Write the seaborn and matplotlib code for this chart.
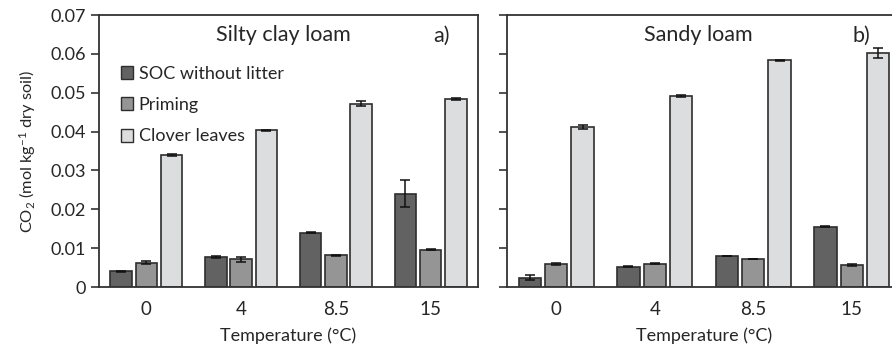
import pandas as pd
import numpy as np
import seaborn as sns
import matplotlib.pyplot as plt
from matplotlib.patches import Patch

# data (mol CO2 per kg dry soil)
temps = ["0", "4", "8.5", "15"]
series = ["SOC without litter", "Priming", "Clover leaves"]

silty_soc = [0.0040, 0.0078, 0.0140, 0.0240]
silty_soc_err = [0.0002, 0.0003, 0.0002, 0.0035]
silty_priming = [0.0063, 0.0071, 0.0082, 0.0096]
silty_priming_err = [0.0004, 0.0007, 0.0001, 0.0002]
silty_clover = [0.0339, 0.0403, 0.0472, 0.0484]
silty_clover_err = [0.0002, 0.0001, 0.0007, 0.0003]

sandy_soc = [0.0024, 0.0052, 0.0080, 0.0155]
sandy_soc_err = [0.0007, 0.0001, 0.0001, 0.0001]
sandy_priming = [0.0059, 0.0060, 0.0072, 0.0057]
sandy_priming_err = [0.0003, 0.0002, 0.0001, 0.0002]
sandy_clover = [0.0412, 0.0492, 0.0583, 0.0602]
sandy_clover_err = [0.0005, 0.0002, 0.0002, 0.0012]

colors = ["#626262", "#959595", "#dcdddf"]
edge = "#2e2e2e"


def make_df(soc, pri, clo, soc_e, pri_e, clo_e):
    rows = []
    for name, vals, errs in zip(series, [soc, pri, clo], [soc_e, pri_e, clo_e]):
        for t, v, e in zip(temps, vals, errs):
            rows.append({"temp": t, "series": name, "co2": v, "err": e})
    return pd.DataFrame(rows)


df_silty = make_df(silty_soc, silty_priming, silty_clover,
                   silty_soc_err, silty_priming_err, silty_clover_err)
df_sandy = make_df(sandy_soc, sandy_priming, sandy_clover,
                   sandy_soc_err, sandy_priming_err, sandy_clover_err)

sns.set_style("white")
plt.rcParams["font.family"] = ["Lato", "DejaVu Sans"]
plt.rcParams["mathtext.fontset"] = "custom"
plt.rcParams["mathtext.rm"] = "Lato"
plt.rcParams["mathtext.it"] = "Lato:italic"

fig = plt.figure(figsize=(8.92, 3.5), dpi=100)
W, H = 892, 350
ax1 = fig.add_axes([99 / W, 63 / H, 379 / W, 272 / H])
ax2 = fig.add_axes([507 / W, 63 / H, 394 / W, 272 / H])


def draw(ax, df, title, tag, show_ylabels, title_x, tag_x):
    sns.barplot(data=df, x="temp", y="co2", hue="series", order=temps,
                hue_order=series, palette=colors, errorbar=None,
                width=0.8, gap=0.15, edgecolor=edge, linewidth=1.2,
                legend=False, ax=ax)
    # error bars on the bar centres
    for name, bars in zip(series, ax.containers):
        sub = df[df["series"] == name].set_index("temp").loc[temps]
        xs = [b.get_x() + b.get_width() / 2 for b in bars]
        ax.errorbar(xs, sub["co2"], yerr=sub["err"], fmt="none",
                    ecolor="#111111", elinewidth=1.1, capsize=3.5,
                    capthick=1.1, zorder=5)
    ax.set_ylim(0, 0.07)
    ax.set_yticks(np.arange(0, 0.0701, 0.01))
    if show_ylabels:
        ax.set_yticklabels(["0" if v < 1e-9 else f"{v:.2f}"
                            for v in np.arange(0, 0.0701, 0.01)])
    else:
        ax.set_yticklabels([])
    ax.set_xlim(-0.5, len(temps) - 0.5)
    ax.set_xticks(range(len(temps)))
    ax.set_xticklabels(temps)
    ax.set_xticks(np.arange(-0.5, len(temps)), minor=True)
    ax.tick_params(axis="x", which="major", length=0, labelsize=13.5, pad=10)
    ax.tick_params(axis="x", which="minor", length=6, width=1.2,
                   direction="out", color="#333333")
    ax.tick_params(axis="y", length=6, width=1.2, direction="out",
                   color="#333333", labelsize=13, left=True)
    for s in ax.spines.values():
        s.set_visible(True)
        s.set_color("#333333")
        s.set_linewidth(1.3)
    ax.set_xlabel("Temperature (°C)", fontsize=13, labelpad=7)
    ax.set_ylabel("")
    ax.text(title_x, 0.925, title, transform=ax.transAxes, ha="center",
            va="center", fontsize=15.5)
    ax.text(tag_x, 0.925, tag, transform=ax.transAxes, ha="center",
            va="center", fontsize=15.5)


draw(ax1, df_silty, "Silty clay loam", "a)", True,
     (283 - 99) / 379, (441 - 99) / 379)
draw(ax2, df_sandy, "Sandy loam", "b)", False,
     (698 - 507) / 394, (861 - 507) / 394)

ax1.set_ylabel("CO$_2$ (mol kg$^{-1}$ dry soil)", fontsize=11.8, labelpad=9)

handles = [Patch(facecolor=c, edgecolor=edge, linewidth=1.0) for c in colors]
ax1.legend(handles, series, loc="upper left", bbox_to_anchor=(0.04, 0.84),
           frameon=False, fontsize=13, handlelength=0.65,
           handleheight=0.75, handletextpad=0.3, labelspacing=0.85,
           borderaxespad=0)

fig.savefig("out.png", dpi=100)
